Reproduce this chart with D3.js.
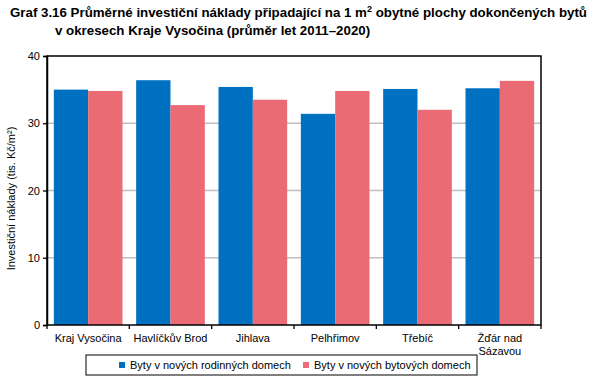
<!DOCTYPE html>
<html>
<head>
<meta charset="utf-8">
<script src="https://cdn.jsdelivr.net/npm/d3@7"></script>
<style>
  body { margin: 0; background: #fff; }
  svg { font-family: "Liberation Sans", Arial, sans-serif; }
</style>
</head>
<body>
<div id="chart"></div>
<script>
const categories = ["Kraj Vysočina", "Havlíčkův Brod", "Jihlava", "Pelhřimov", "Třebíč", "Žďár nad Sázavou"];
const rodinne = [35.0, 36.4, 35.4, 31.4, 35.1, 35.2];
const bytove = [34.8, 32.7, 33.5, 34.8, 32.0, 36.3];
const seriesNames = ["Byty v nových rodinných domech", "Byty v nových bytových domech"];
const colors = ["#0070c0", "#ea6b73"];
const yTicks = [0, 10, 20, 30, 40];

const width = 596, height = 390;
const margin = { left: 47, right: 55, top: 56, bottom: 65 };
const font = "'Liberation Sans', Arial, sans-serif";

const svg = d3.select("#chart").append("svg")
    .attr("width", width)
    .attr("height", height);

// title
const title = svg.append("text")
    .attr("font-size", 13.3)
    .attr("font-weight", "bold")
    .attr("fill", "#000");
title.append("tspan").attr("x", 10).attr("y", 17)
    .text("Graf 3.16 Průměrné investiční náklady připadající na 1 m");
title.append("tspan").attr("font-size", 9).attr("dy", -5).text("2");
title.append("tspan").attr("dy", 5).text(" obytné plochy dokončených bytů");
title.append("tspan").attr("x", 55).attr("y", 35)
    .text("v okresech Kraje Vysočina (průměr let 2011–2020)");

const x = d3.scaleBand()
    .domain(categories)
    .range([margin.left, width - margin.right])
    .paddingInner(0.166)
    .paddingOuter(0.083);

const x1 = d3.scaleBand()
    .domain([0, 1])
    .range([0, x.bandwidth()]);

const y = d3.scaleLinear()
    .domain([0, 40])
    .range([height - margin.bottom, margin.top]);

// gridlines
svg.append("g")
    .selectAll("line")
    .data(yTicks.filter(d => d > 0 && d < 40))
    .join("line")
    .attr("x1", margin.left)
    .attr("x2", width - margin.right)
    .attr("y1", d => y(d))
    .attr("y2", d => y(d))
    .attr("stroke", "#bfbfbf")
    .attr("stroke-width", 1.3);

// bars
const data = categories.map((c, i) => ({ cat: c, values: [rodinne[i], bytove[i]] }));
svg.append("g")
    .selectAll("g")
    .data(data)
    .join("g")
    .attr("transform", d => `translate(${x(d.cat)},0)`)
    .selectAll("rect")
    .data(d => d.values.map((v, k) => ({ v, k })))
    .join("rect")
    .attr("x", d => x1(d.k))
    .attr("width", x1.bandwidth())
    .attr("y", d => y(d.v))
    .attr("height", d => y(0) - y(d.v))
    .attr("fill", d => colors[d.k]);

// frame
svg.append("rect")
    .attr("x", margin.left)
    .attr("y", margin.top)
    .attr("width", width - margin.left - margin.right)
    .attr("height", height - margin.top - margin.bottom)
    .attr("fill", "none")
    .attr("stroke", "#000")
    .attr("stroke-width", 1.5);

// y axis
const yAxis = svg.append("g")
    .attr("transform", `translate(${margin.left},0)`)
    .call(d3.axisLeft(y).tickValues(yTicks).tickSize(4).tickPadding(3));
yAxis.select(".domain").attr("stroke-width", 1.5);
yAxis.selectAll(".tick line").attr("stroke-width", 1.3);
yAxis.selectAll("text").attr("font-size", 11).attr("font-family", font).attr("fill", "#000");

// x axis ticks at category boundaries
const boundaries = categories.map(c => x(c) - x.step() * x.paddingInner() / 2);
boundaries.push(width - margin.right);
svg.append("g")
    .selectAll("line")
    .data(boundaries)
    .join("line")
    .attr("x1", d => d)
    .attr("x2", d => d)
    .attr("y1", y(0))
    .attr("y2", y(0) + 4)
    .attr("stroke", "#000")
    .attr("stroke-width", 1.3);

// x labels
const xl = svg.append("g")
    .selectAll("text")
    .data(categories)
    .join("text")
    .attr("x", d => x(d) + x.bandwidth() / 2)
    .attr("y", y(0) + 17)
    .attr("text-anchor", "middle")
    .attr("font-size", 11)
    .attr("fill", "#000");
xl.each(function(d) {
    const t = d3.select(this);
    if (d === "Žďár nad Sázavou") {
        t.append("tspan").attr("x", x(d) + x.bandwidth() / 2).text("Žďár nad");
        t.append("tspan").attr("x", x(d) + x.bandwidth() / 2).attr("dy", 13).text("Sázavou");
    } else {
        t.text(d);
    }
});

// y label
svg.append("text")
    .attr("transform", `translate(15,${(y(0) + y(40)) / 2 + 8}) rotate(-90)`)
    .attr("text-anchor", "middle")
    .attr("font-size", 11)
    .attr("fill", "#000")
    .text("Investiční náklady (tis. Kč/m²)");

// legend
const legend = svg.append("g");
legend.append("rect")
    .attr("x", 86).attr("y", 355)
    .attr("width", 391).attr("height", 20)
    .attr("fill", "#fff")
    .attr("stroke", "#000")
    .attr("stroke-width", 1);
const legendX = [119, 303];
seriesNames.forEach((name, i) => {
    legend.append("rect")
        .attr("x", legendX[i]).attr("y", 362)
        .attr("width", 6).attr("height", 6)
        .attr("fill", colors[i]);
    legend.append("text")
        .attr("x", legendX[i] + 11).attr("y", 369)
        .attr("font-size", 11)
        .attr("fill", "#000")
        .text(name);
});
</script>
</body>
</html>
